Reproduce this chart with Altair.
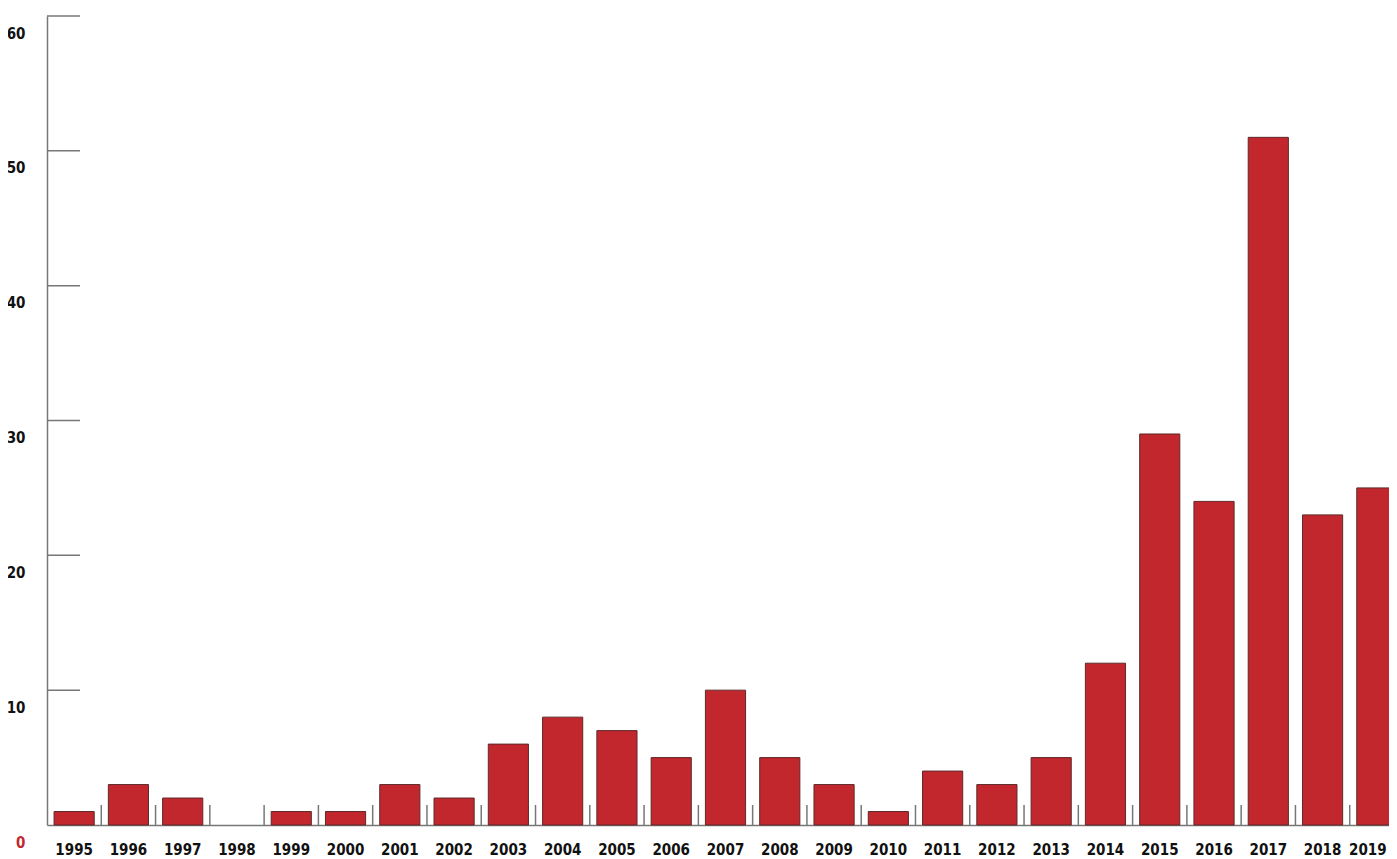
import altair as alt
import pandas as pd

years = [str(y) for y in range(1995, 2020)]
counts = [1, 3, 2, 0, 1, 1, 3, 2, 6, 8, 7, 5, 10, 5, 3, 1, 4, 3, 5, 12, 29, 24, 51, 23, 25]
y_ticks = [10, 20, 30, 40, 50, 60]
y_labels = [0, 10, 20, 30, 40, 50, 60]

df = pd.DataFrame({"year": years, "count": counts})
tick_df = pd.DataFrame({"v": y_ticks})
sep_df = pd.DataFrame({"year": years[1:]})

FONT = "DejaVu Sans Condensed"
RED = "#c1272d"
GRAY = "#777777"

y_scale = alt.Scale(domain=[0, 60], nice=False, zero=True)

bars = alt.Chart(df).transform_filter("datum.count > 0").mark_bar(
    color=RED, stroke="#5e2a2a", strokeWidth=1
).encode(
    x=alt.X("year:N", sort=years, title=None,
            scale=alt.Scale(domain=years, range=[0, 1357], paddingInner=0.26, paddingOuter=0.13),
            axis=alt.Axis(labelAngle=0, tickSize=0, labelPadding=17,
                          labelOffset=alt.expr("datum.value == '2019' ? -9 : 0"),
                          domainColor=GRAY, domainWidth=1.5,
                          labelFont=FONT, labelFontSize=15, labelFontWeight="bold",
                          labelColor="#111111")),
    y=alt.Y("count:Q", scale=y_scale, title=None,
            axis=alt.Axis(values=y_labels, tickSize=0, labelPadding=22, grid=False,
                          labelOffset=17, domainColor=GRAY, domainWidth=1.5,
                          labelFont=FONT, labelFontSize=15, labelFontWeight="bold",
                          labelColor=alt.expr("datum.value == 0 ? '#c1272d' : '#111111'"))),
)

yticks = alt.Chart(tick_df).mark_rule(color=GRAY, strokeWidth=1.5).encode(
    y=alt.Y("v:Q", scale=y_scale),
    x=alt.value(0),
    x2=alt.value(33),
)

seps = alt.Chart(sep_df).mark_rule(color=GRAY, strokeWidth=1.5).encode(
    x=alt.X("year:N", sort=years, bandPosition=0,
            scale=alt.Scale(domain=years, range=[0, 1357], paddingInner=0, paddingOuter=0),
            axis=None),
    y=alt.value(789),
    y2=alt.value(809),
)

chart = alt.layer(bars, yticks, seps).resolve_scale(x="independent").properties(
    width=1342, height=809,
    padding={"left": 39, "top": 8, "right": 0, "bottom": 34},
    autosize=alt.AutoSizeParams(type="none"),
).configure_view(stroke=None)

chart.save("out.html", embed_options={"renderer": "svg", "actions": False})
